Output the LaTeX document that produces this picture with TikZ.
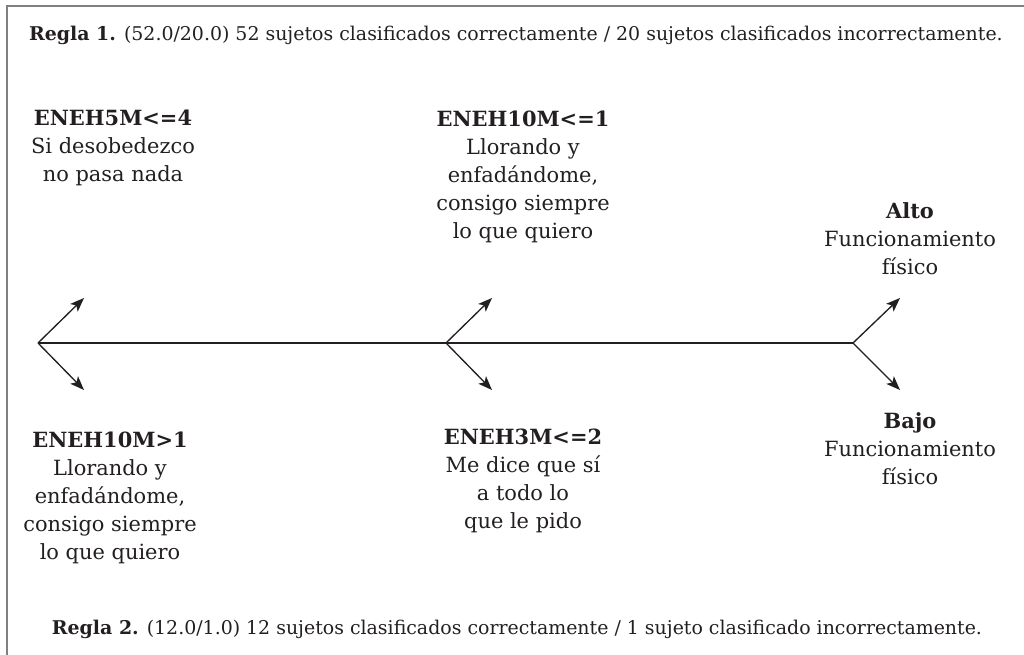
\documentclass[tikz,border=0pt]{standalone}
\usepackage{fontspec}
\setmainfont{DejaVu Serif}
\usetikzlibrary{arrows.meta}
\definecolor{tinta}{HTML}{231F20}
\definecolor{marco}{HTML}{808080}
\tikzset{
  rama/.style={->, >={Stealth[length=10.5pt,width=8pt,inset=2.5pt]}, line width=1pt, draw=tinta, fill=tinta},
  bloque/.style={align=center, anchor=north, inner sep=0pt, text=tinta, font=\fontsize{15.7}{21}\selectfont},
  regla/.style={anchor=base, inner sep=0pt, text=tinta, font=\fontsize{14.2}{17}\selectfont}
}
\begin{document}
\begin{tikzpicture}[x=0.75pt, y=0.75pt]
  \useasboundingbox (0,0) rectangle (1024,-655);

  % Marco (borde superior e izquierdo)
  \draw[marco, line width=1.5pt] (7,-655) -- (7,-6) -- (1024,-6);

  % Reglas
  \node[regla] (regla1) at (516,-41) {\textbf{Regla 1.} (52.0/20.0) 52 sujetos clasificados correctamente / 20 sujetos clasificados incorrectamente.};
  \node[regla] (regla2) at (517,-634) {\textbf{Regla 2.} (12.0/1.0) 12 sujetos clasificados correctamente / 1 sujeto clasificado incorrectamente.};

  % Puntos de bifurcacion
  \coordinate (b1) at (38,-343);
  \coordinate (b2) at (446,-343);
  \coordinate (b3) at (853,-343);

  % Puntas de las flechas
  \coordinate (s1) at (84,-298);  \coordinate (i1) at (84,-390);
  \coordinate (s2) at (492,-298); \coordinate (i2) at (492,-390);
  \coordinate (s3) at (900,-298); \coordinate (i3) at (900,-390);

  % Linea principal
  \draw[line width=1pt, tinta] (b1) -- (b3);

  % Ramas
  \draw[rama] (b1) -- (s1);
  \draw[rama] (b1) -- (i1);
  \draw[rama] (b2) -- (s2);
  \draw[rama] (b2) -- (i2);
  \draw[rama] (b3) -- (s3);
  \draw[rama] (b3) -- (i3);

  % Condiciones superiores
  \node[bloque] (c1) at (113,-110) {\textbf{ENEH5M<=4}\\Si desobedezco\\no pasa nada};
  \node[bloque] (c2) at (523,-111) {\textbf{ENEH10M<=1}\\Llorando y\\enfadándome,\\consigo siempre\\lo que quiero};
  \node[bloque] (alto) at (910,-202) {\textbf{Alto}\\Funcionamiento\\físico};

  % Condiciones inferiores
  \node[bloque] (c3) at (110,-432) {\textbf{ENEH10M>1}\\Llorando y\\enfadándome,\\consigo siempre\\lo que quiero};
  \node[bloque] (c4) at (523,-429) {\textbf{ENEH3M<=2}\\Me dice que sí\\a todo lo\\que le pido};
  \node[bloque] (bajo) at (910,-412) {\textbf{Bajo}\\Funcionamiento\\físico};
\end{tikzpicture}
\end{document}
